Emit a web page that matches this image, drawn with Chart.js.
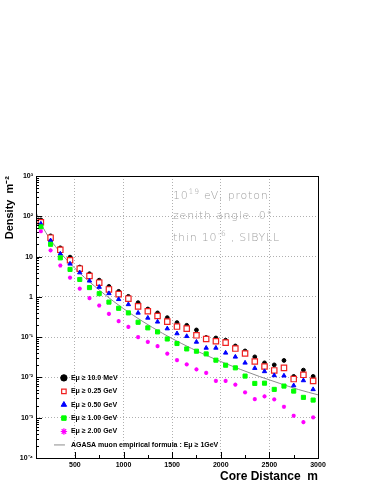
<!DOCTYPE html>
<html>
<head>
<meta charset="utf-8">
<script src="https://cdn.jsdelivr.net/npm/chart.js@4.4.1/dist/chart.umd.min.js"></script>
<style>
html,body{margin:0;padding:0;background:#fff;}
canvas{display:block;}
</style>
</head>
<body>
<canvas id="c" width="382" height="494"></canvas>
<script>
// ---- data ----
const coreDistances = [150,250,350,450,550,650,750,850,950,1050,1150,1250,1350,1450,1550,1650,1750,1850,1950,2050,2150,2250,2350,2450,2550,2650,2750,2850,2950];
const densE10MeV = [81.5,32.7,16.5,9.7,5.5,3.75,2.6,1.82,1.37,1.03,0.72,0.50,0.40,0.305,0.23,0.197,0.151,0.098,0.0955,0.084,0.0605,0.0455,0.0324,0.023,0.0205,0.0264,0.0106,0.0152,0.0106];
const densE025GeV = [71,29.4,14.7,8.1,5.0,3.3,2.25,1.53,1.17,0.90,0.58,0.44,0.335,0.243,0.183,0.163,0.111,0.090,0.079,0.073,0.052,0.0393,0.0249,0.0187,0.0149,0.0173,0.0091,0.0116,0.0082];
const densE050GeV = [65,25,11.7,6.6,4.0,2.5,1.75,1.22,0.87,0.65,0.40,0.30,0.24,0.163,0.123,0.105,0.076,0.054,0.054,0.0407,0.0324,0.023,0.017,0.0141,0.0112,0.011,0.0063,0.0084,0.00505];
const densE100GeV = [54.7,20.2,9.3,4.8,2.7,1.7,1.2,0.74,0.52,0.40,0.234,0.17,0.135,0.090,0.0695,0.051,0.0448,0.0384,0.0268,0.0201,0.0173,0.0108,0.0071,0.0072,0.00505,0.0061,0.00458,0.0032,0.00274];
const densE200GeV = [42.5,14.2,6.0,3.0,1.6,0.93,0.61,0.38,0.25,0.18,0.10,0.076,0.060,0.039,0.0268,0.021,0.0158,0.013,0.0082,0.0082,0.0066,0.00426,0.0029,0.0034,0.00285,0.00187,0.00112,0.00078,0.00102];
const agasaDistances = [100,150,200,250,300,400,500,600,700,800,900,1000,1200,1400,1600,1800,2000,2200,2400,2600,2800,3000];
const agasaDensity = [125,66.7,40.0,26.0,17.8,9.13,5.11,3.01,1.86,1.18,0.765,0.509,0.243,0.125,0.069,0.0403,0.0248,0.0159,0.0105,0.0072,0.0050,0.0037];
const seriesLabels = ['E\u03bc \u2265 10.0 MeV','E\u03bc \u2265 0.25 GeV','E\u03bc \u2265 0.50 GeV','E\u03bc \u2265 1.00 GeV','E\u03bc \u2265 2.00 GeV','AGASA muon empirical formula : E\u03bc \u2265 1GeV'];
const yTickValues = [1e-4,1e-3,1e-2,1e-1,1,10,100,1000];
const yTickLabels = ['10\u207b\u2074','10\u207b\u00b3','10\u207b\u00b2','10\u207b\u00b9','1','10','10\u00b2','10\u00b3'];
const xTickLabelValues = [500,1000,1500,2000,2500,3000];

function pts(xs, ys){ return xs.map((x,i)=>({x:x,y:ys[i]})); }

// legend line sample (image point style)
const lineSample = document.createElement('canvas');
lineSample.width = 36; lineSample.height = 3;
(function(){const g=lineSample.getContext('2d'); g.strokeStyle='#8c8c8c'; g.lineWidth=1; g.beginPath(); g.moveTo(1,1.5); g.lineTo(19,1.5); g.stroke();})();

const FONT = '"Liberation Sans", Arial, Helvetica, sans-serif';

const legendPlace = {
  id: 'legendPlace',
  afterLayout(chart){
    const lg = chart.legend, a = chart.chartArea;
    if(!lg) return;
    lg.left = a.left + 18; lg.right = a.right;
    lg.top = a.top + 192; lg.bottom = a.bottom;
  }
};

function isPow10(v){ const l = Math.log10(v); return Math.abs(l - Math.round(l)) < 1e-9; }

const rootDecor = {
  id: 'rootDecor',
  afterDatasetsDraw(chart){
    const ctx = chart.ctx, a = chart.chartArea;
    const xs = chart.scales.x, ys = chart.scales.y;
    ctx.save();
    ctx.strokeStyle = '#000'; ctx.lineWidth = 1;
    ctx.beginPath();
    xs.ticks.forEach(t=>{
      if (t.value <= xs.min || t.value >= xs.max) return;
      const px = Math.round(xs.getPixelForValue(t.value)) + 0.5;
      const len = (t.value % 500 === 0) ? 6 : 3;
      ctx.moveTo(px, a.bottom); ctx.lineTo(px, a.bottom - len);
    });
    ys.ticks.forEach(t=>{
      const v = t.value;
      if (v <= ys.min || v >= ys.max) return;
      const m = v / Math.pow(10, Math.floor(Math.log10(v) + 1e-9));
      if (Math.abs(m - 1.5) < 1e-6) return;
      const py = Math.round(ys.getPixelForValue(v)) + 0.5;
      const len = isPow10(v) ? 6 : 3;
      ctx.moveTo(a.left, py); ctx.lineTo(a.left + len, py);
    });
    ctx.stroke();
    ctx.strokeRect(Math.round(a.left)+0.5, Math.round(a.top)+0.5, Math.round(a.right - a.left), Math.round(a.bottom - a.top));
    ctx.restore();
  },
  afterDraw(chart){
    const ctx = chart.ctx, a = chart.chartArea;
    ctx.save();
    ctx.fillStyle = '#a0a0a0';
    ctx.textBaseline = 'alphabetic';
    ctx.textAlign = 'left';
    try { ctx.letterSpacing = '0.8px'; } catch(e) {}
    const x0 = a.left + 137;
    const lines = [
      {y: a.top + 23, parts: [{t:'10'},{t:'19',sup:true},{t:' eV, proton'}]},
      {y: a.top + 42.5, parts: [{t:'zenith angle  0\u00b0'}]},
      {y: a.top + 64.5, parts: [{t:'thin 10'},{t:'-6',sup:true},{t:' , SIBYLL'}]}
    ];
    lines.forEach(L=>{
      let x = x0;
      L.parts.forEach(p=>{
        ctx.font = p.sup ? '300 7.5px "DejaVu Sans", sans-serif' : '300 11px "DejaVu Sans", sans-serif';
        ctx.fillText(p.t, x, p.sup ? L.y - 5 : L.y);
        x += ctx.measureText(p.t).width;
      });
    });
    ctx.restore();
  }
};

const common = {showLine:false};
new Chart(document.getElementById('c'), {
  type: 'scatter',
  data: {
    datasets: [
      {...common, label: seriesLabels[0], data: pts(coreDistances, densE10MeV), pointStyle:'circle', pointRadius:1.9, backgroundColor:'#000', borderColor:'#000', borderWidth:1, order:5},
      {...common, label: seriesLabels[1], data: pts(coreDistances, densE025GeV), pointStyle:'rect', pointRadius:3.8, backgroundColor:'#fff', borderColor:'#f02020', borderWidth:1.2, order:4},
      {...common, label: seriesLabels[2], data: pts(coreDistances, densE050GeV), pointStyle:'triangle', pointRadius:2.5, backgroundColor:'#0000ff', borderColor:'#0000ff', borderWidth:1, order:3},
      {...common, label: seriesLabels[3], data: pts(coreDistances, densE100GeV), pointStyle:'rect', pointRadius:2.9, backgroundColor:'#00ff00', borderColor:'#00ff00', borderWidth:1, order:2},
      {...common, label: seriesLabels[4], data: pts(coreDistances, densE200GeV), pointStyle:'star', pointRadius:2.1, backgroundColor:'#ff00ff', borderColor:'#ff00ff', borderWidth:1.2, order:1},
      {label: seriesLabels[5], data: pts(agasaDistances, agasaDensity), showLine:true, pointRadius:0, pointStyle: lineSample, borderColor:'#8c8c8c', backgroundColor:'#8c8c8c', borderWidth:1, cubicInterpolationMode:'monotone', order:6}
    ]
  },
  options: {
    responsive: false,
    animation: false,
    devicePixelRatio: 1,
    layout: {padding: {top:176, right:64, left:0, bottom:0}},
    plugins: {
      tooltip: {enabled:false},
      legend: {
        position: 'chartArea',
        align: 'start',
        labels: {
          usePointStyle: true,
          boxWidth: 7,
          boxHeight: 4.5,
          padding: 6.4,
          color: '#000',
          font: {family: FONT, size: 7, weight: 'bold'},
          sort: (a,b) => a.datasetIndex - b.datasetIndex
        }
      }
    },
    scales: {
      x: {
        type: 'linear', min: 100, max: 3000,
        afterFit: s => { s.height = 36; },
        border: {display:false, dash:[1,2]},
        grid: {
          drawTicks:false,
          color: c => { const v = c.tick && c.tick.value; return (v % 500 === 0 && v > 100 && v < 3000) ? '#b0b0b0' : 'rgba(0,0,0,0)'; }
        },
        ticks: {
          stepSize: 250, autoSkip:false, maxRotation:0, padding:3,
          color:'#000', font:{family: FONT, size:7, weight:'bold'},
          callback: v => xTickLabelValues.includes(v) ? String(v) : ''
        },
        title: {display:true, text:'Core Distance  m', align:'end', color:'#000', font:{family: FONT, size:12, weight:'bold'}, padding:{top:0, bottom:10}}
      },
      y: {
        type: 'logarithmic', min: 1e-4, max: 1e3,
        afterFit: s => { s.width = 36; },
        border: {display:false, dash:[1,2]},
        grid: {
          drawTicks:false,
          color: c => { const v = c.tick && c.tick.value; return (v && isPow10(v) && v > 1e-4 && v < 1e3) ? '#b0b0b0' : 'rgba(0,0,0,0)'; }
        },
        ticks: {
          autoSkip:false, padding:3, color:'#000', font:{family: FONT, size:7, weight:'bold'},
          callback: v => { const i = yTickValues.findIndex(t => Math.abs(Math.log10(t) - Math.log10(v)) < 1e-6); return i >= 0 ? yTickLabels[i] : ''; }
        },
        title: {display:true, text:'Density  m\u207b\u00b2', align:'end', color:'#000', font:{family: FONT, size:11, weight:'bold'}, padding:{top:3, bottom:0}}
      }
    }
  },
  plugins: [legendPlace, rootDecor]
});
</script>
</body>
</html>
